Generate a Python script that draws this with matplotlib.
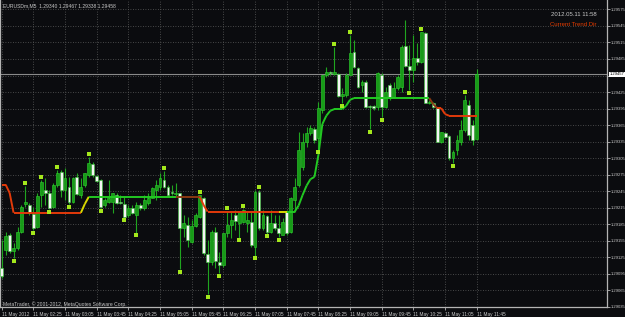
import numpy as np
import matplotlib.pyplot as plt
import matplotlib.transforms as mtransforms

# EURUSDm M5, bars from 01:45 to 11:45
opens = [1.29106, 1.29139, 1.29166, 1.29137, 1.29142, 1.29171, 1.29222, 1.29220, 1.29204, 1.29180,
         1.29238, 1.29248, 1.29242, 1.29217, 1.29257, 1.29280, 1.29248, 1.29253, 1.29226, 1.29271,
         1.29238, 1.29257, 1.29275, 1.29295, 1.29273, 1.29266, 1.29220, 1.29226, 1.29226, 1.29238,
         1.29226, 1.29222, 1.29202, 1.29215, 1.29202, 1.29220, 1.29215, 1.29224, 1.29233, 1.29248,
         1.29253, 1.29266, 1.29253, 1.29244, 1.29240, 1.29242, 1.29179, 1.29184, 1.29153, 1.29182,
         1.29199, 1.29233, 1.29132, 1.29117, 1.29171, 1.29117, 1.29112, 1.29170, 1.29184, 1.29202,
         1.29188, 1.29190, 1.29188, 1.29190, 1.29144, 1.29244, 1.29179, 1.29200, 1.29171, 1.29188,
         1.29179, 1.29166, 1.29208, 1.29171, 1.29229, 1.29257, 1.29289, 1.29335, 1.29351, 1.29358,
         1.29342, 1.29393, 1.29456, 1.29461, 1.29458, 1.29458, 1.29418, 1.29420, 1.29456, 1.29498,
         1.29469, 1.29438, 1.29443, 1.29400, 1.29400, 1.29398, 1.29456, 1.29398, 1.29438, 1.29416,
         1.29432, 1.29434, 1.29509, 1.29472, 1.29465, 1.29487, 1.29480, 1.29532, 1.29405, 1.29405,
         1.29398, 1.29335, 1.29351, 1.29345, 1.29306, 1.29320, 1.29335, 1.29356, 1.29402, 1.29365,
         1.29340]
highs = [1.29157, 1.29171, 1.29170, 1.29151, 1.29180, 1.29220, 1.29255, 1.29224, 1.29217, 1.29242,
         1.29266, 1.29269, 1.29248, 1.29260, 1.29284, 1.29284, 1.29287, 1.29271, 1.29271, 1.29278,
         1.29269, 1.29278, 1.29307, 1.29298, 1.29275, 1.29267, 1.29233, 1.29266, 1.29242, 1.29242,
         1.29238, 1.29235, 1.29220, 1.29220, 1.29226, 1.29224, 1.29238, 1.29242, 1.29253, 1.29266,
         1.29278, 1.29282, 1.29257, 1.29257, 1.29260, 1.29242, 1.29202, 1.29199, 1.29193, 1.29206,
         1.29238, 1.29235, 1.29157, 1.29175, 1.29180, 1.29135, 1.29170, 1.29209, 1.29208, 1.29211,
         1.29208, 1.29213, 1.29208, 1.29208, 1.29248, 1.29248, 1.29211, 1.29202, 1.29211, 1.29202,
         1.29202, 1.29197, 1.29211, 1.29235, 1.29269, 1.29353, 1.29351, 1.29362, 1.29365, 1.29362,
         1.29407, 1.29456, 1.29470, 1.29463, 1.29507, 1.29460, 1.29432, 1.29460, 1.29529, 1.29519,
         1.29470, 1.29447, 1.29447, 1.29402, 1.29402, 1.29461, 1.29460, 1.29434, 1.29442, 1.29443,
         1.29456, 1.29510, 1.29556, 1.29510, 1.29529, 1.29514, 1.29534, 1.29534, 1.29411, 1.29407,
         1.29398, 1.29353, 1.29353, 1.29347, 1.29320, 1.29347, 1.29375, 1.29420, 1.29411, 1.29375,
         1.29467]
lows = [1.29088, 1.29130, 1.29133, 1.29124, 1.29139, 1.29170, 1.29217, 1.29202, 1.29175, 1.29179,
        1.29217, 1.29220, 1.29213, 1.29215, 1.29253, 1.29235, 1.29229, 1.29222, 1.29224, 1.29238,
        1.29233, 1.29253, 1.29271, 1.29271, 1.29262, 1.29215, 1.29217, 1.29224, 1.29206, 1.29222,
        1.29222, 1.29197, 1.29199, 1.29204, 1.29170, 1.29211, 1.29211, 1.29220, 1.29233, 1.29229,
        1.29248, 1.29251, 1.29235, 1.29238, 1.29235, 1.29104, 1.29162, 1.29144, 1.29151, 1.29180,
        1.29197, 1.29130, 1.29059, 1.29112, 1.29106, 1.29097, 1.29108, 1.29162, 1.29161, 1.29175,
        1.29161, 1.29188, 1.29171, 1.29144, 1.29128, 1.29175, 1.29175, 1.29168, 1.29170, 1.29175,
        1.29162, 1.29166, 1.29166, 1.29170, 1.29208, 1.29253, 1.29284, 1.29325, 1.29347, 1.29333,
        1.29322, 1.29387, 1.29452, 1.29456, 1.29456, 1.29416, 1.29405, 1.29416, 1.29456, 1.29469,
        1.29432, 1.29425, 1.29396, 1.29358, 1.29393, 1.29393, 1.29380, 1.29396, 1.29411, 1.29414,
        1.29429, 1.29425, 1.29470, 1.29429, 1.29443, 1.29474, 1.29478, 1.29405, 1.29403, 1.29396,
        1.29335, 1.29333, 1.29342, 1.29302, 1.29296, 1.29311, 1.29329, 1.29353, 1.29338, 1.29329,
        1.29338]
closes = [1.29092, 1.29164, 1.29137, 1.29142, 1.29171, 1.29217, 1.29226, 1.29206, 1.29179, 1.29237,
          1.29262, 1.29242, 1.29215, 1.29257, 1.29278, 1.29248, 1.29269, 1.29226, 1.29269, 1.29240,
          1.29253, 1.29278, 1.29296, 1.29275, 1.29264, 1.29217, 1.29229, 1.29233, 1.29242, 1.29224,
          1.29224, 1.29199, 1.29215, 1.29206, 1.29220, 1.29215, 1.29229, 1.29233, 1.29251, 1.29257,
          1.29269, 1.29253, 1.29238, 1.29242, 1.29242, 1.29179, 1.29188, 1.29157, 1.29182, 1.29202,
          1.29238, 1.29133, 1.29117, 1.29171, 1.29119, 1.29112, 1.29170, 1.29184, 1.29193, 1.29191,
          1.29208, 1.29211, 1.29193, 1.29148, 1.29244, 1.29179, 1.29202, 1.29171, 1.29188, 1.29179,
          1.29170, 1.29190, 1.29170, 1.29233, 1.29253, 1.29320, 1.29335, 1.29351, 1.29360, 1.29338,
          1.29396, 1.29456, 1.29461, 1.29460, 1.29461, 1.29418, 1.29422, 1.29456, 1.29496, 1.29470,
          1.29434, 1.29443, 1.29398, 1.29398, 1.29396, 1.29460, 1.29398, 1.29425, 1.29416, 1.29432,
          1.29452, 1.29507, 1.29472, 1.29465, 1.29487, 1.29480, 1.29534, 1.29405, 1.29407, 1.29398,
          1.29335, 1.29353, 1.29344, 1.29306, 1.29316, 1.29338, 1.29356, 1.29411, 1.29347, 1.29338,
          1.29458]

# "Current Trend Dir" indicator value and its state per bar (r = down, g = up, y/b = switching)
trend = ([1.29257, 1.29257, 1.29242] + [1.29206] * 18 + [1.29222] + [1.29235] * 29 + [1.29220]
         + [1.29208] * 23 + [1.29219, 1.29238, 1.29255, 1.29267, 1.29271, 1.29311, 1.29367, 1.29382,
                             1.29391, 1.29394, 1.29394, 1.29394, 1.29400, 1.29411]
         + [1.29414] * 20 + [1.29403, 1.29396, 1.29396, 1.29385] + [1.29382] * 8)
trend_state = ['r'] * 20 + ['y'] * 2 + ['g'] * 22 + ['b'] * 6 + ['r'] * 20 + ['y'] * 2 + ['g'] * 36 + ['b'] * 2 + ['r'] * 11

fractal_up = [6, 10, 14, 22, 41, 50, 57, 61, 65, 84, 88, 106, 117]
fractal_down = [3, 8, 12, 17, 25, 31, 34, 45, 52, 55, 60, 64, 67, 70, 80, 86, 93, 96, 103, 114]

time_labels = ['11 May 2012', '11 May 02:25', '11 May 03:05', '11 May 03:45', '11 May 04:25',
               '11 May 05:05', '11 May 05:45', '11 May 06:25', '11 May 07:05', '11 May 07:45',
               '11 May 08:25', '11 May 09:05', '11 May 09:45', '11 May 10:25', '11 May 11:05',
               '11 May 11:45']
price_levels = [round(1.29575 - 0.0003 * k, 5) for k in range(19)]
current_price = 1.29457

bg = '#0b0c0f'
txt = '#c8c8c8'
plt.rcParams['font.family'] = ['Liberation Sans', 'DejaVu Sans']

fig = plt.figure(figsize=(6.25, 3.17), dpi=100, facecolor=bg)
ax = fig.add_axes([0, 10 / 317, 607 / 625, 307 / 317])
ax.set_facecolor(bg)

x = np.arange(len(opens))
o = np.array(opens); h = np.array(highs); l = np.array(lows); c = np.array(closes)

# grid
for p in price_levels:
    ax.axhline(p, color='#5c5c5c', lw=0.6, ls=(0, (1, 2)), zorder=0)
for b in range(0, 121, 8):
    ax.axvline(b, color='#5c5c5c', lw=0.6, ls=(0, (1, 2)), zorder=0)

# candles
ax.vlines(x, l, h, color='#1fa51f', lw=0.8, zorder=2)
bull = c >= o
body_lo = np.minimum(o, c)
body_h = np.maximum(np.abs(c - o), 0.000012)
ax.bar(x[bull], body_h[bull], bottom=body_lo[bull], width=0.72, color='#179b17',
       edgecolor='#2fd42f', linewidth=0.4, zorder=3)
ax.bar(x[~bull], body_h[~bull], bottom=body_lo[~bull], width=0.72, color='#f4f4f4',
       edgecolor='#39c739', linewidth=0.4, zorder=3)

# trend line
cols = {'r': '#e23a0a', 'g': '#22c922', 'y': '#d8d800', 'b': '#8a3a12'}
for i in range(len(trend) - 1):
    ax.plot([i, i + 1], [trend[i], trend[i + 1]], color=cols[trend_state[i]], lw=1.4,
            solid_capstyle='butt', zorder=4)

# fractal dots
off = 0.00005
ax.scatter(fractal_up, h[fractal_up] + off, marker='s', s=8, color='#a4e81c', linewidths=0, zorder=5)
ax.scatter(fractal_down, l[fractal_down] - off, marker='s', s=8, color='#a4e81c', linewidths=0, zorder=5)

# current price line
ax.axhline(current_price, color='#8a8a8a', lw=0.8, zorder=1)

ax.set_xlim(-0.43, 152.9)
ax.set_ylim(1.29036, 1.29592)

for s in ['left', 'right', 'bottom']:
    ax.spines[s].set_color('#b4b4b4')
    ax.spines[s].set_linewidth(0.9)
ax.spines['top'].set_visible(False)

ax.yaxis.tick_right()
ax.set_yticks(price_levels)
ax.set_yticklabels(['' if abs(p - 1.29455) < 1e-7 else '%.5f' % p for p in price_levels])
ax.tick_params(axis='y', colors='#b4b4b4', labelcolor=txt, labelsize=3.0, length=2, width=0.6, pad=1)
ax.set_xticks(list(range(0, 121, 8)))
ax.set_xticklabels(time_labels, ha='left')
ax.tick_params(axis='x', colors='#b4b4b4', labelcolor=txt, labelsize=3.4, length=2, width=0.6, pad=1.5)

trans = mtransforms.blended_transform_factory(ax.transAxes, ax.transData)
ax.text(1.004, current_price, '%.5f' % current_price, transform=trans, ha='left', va='center',
        fontsize=3.0, color='black', bbox=dict(boxstyle='square,pad=0.2', fc='white', ec='none'))

fig.text(3 / 625, 1 - 6 / 317, 'EURUSDm,M5  1.29340 1.29467 1.29338 1.29458', ha='left', va='center',
         fontsize=3.6, color=txt)
fig.text(597 / 625, 1 - 15 / 317, '2012.05.11 11:58', ha='right', va='center', fontsize=4.3, color=txt)
fig.text(597 / 625, 1 - 25 / 317, 'Current Trend Dir', ha='right', va='center', fontsize=4.3, color='#e63c00')
fig.text(3 / 625, 1 - 304 / 317, 'MetaTrader, © 2001-2012, MetaQuotes Software Corp.', ha='left',
         va='center', fontsize=3.6, color=txt)

fig.savefig('out.png', dpi=100, facecolor=bg)
